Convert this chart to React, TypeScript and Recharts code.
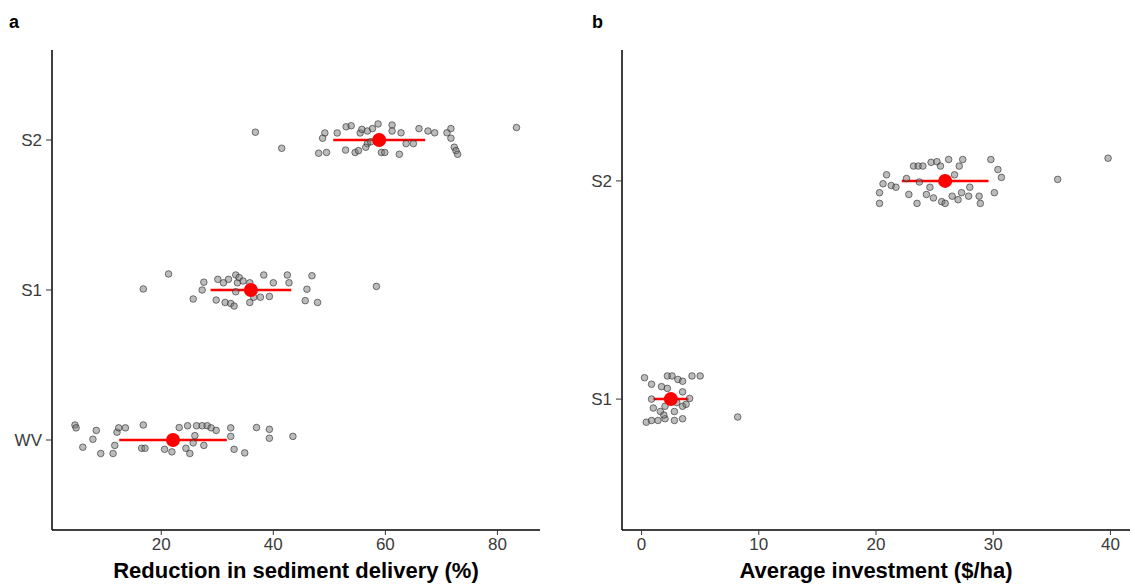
import React from 'react';
import {
  ScatterChart,
  Scatter,
  XAxis,
  YAxis,
  ErrorBar,
  Label,
} from "recharts";

// panel a: reduction in sediment delivery (%)
const aCategories = ["WV", "S1", "S2"];
const aWV = [4.6, 4.8, 6.0, 7.8, 8.4, 9.2, 11.4, 11.7, 12.1, 12.4, 13.6, 16.8, 16.5, 17.1, 20.6, 21.9, 23.2, 24.7, 24.4, 25.1, 26.0, 26.3, 27.3, 28.2, 28.9, 29.8, 27.6, 32.4, 32.4, 33.0, 34.9, 37.0, 39.3, 39.3, 43.5, 25.7];
const aWVJitter = [0.1, 0.081, -0.048, 0.005, 0.064, -0.09, -0.09, -0.036, 0.052, 0.081, 0.081, 0.1, -0.055, -0.055, -0.062, -0.079, 0.083, 0.095, -0.055, -0.09, 0.029, 0.095, 0.095, 0.095, 0.081, 0.064, -0.036, 0.081, 0.024, -0.062, -0.086, 0.083, 0.071, 0.012, 0.024, -0.019];
const aS1 = [16.8, 21.3, 25.7, 27.3, 27.6, 29.8, 30.1, 31.1, 31.4, 32.4, 33.0, 32.0, 33.3, 33.6, 33.9, 33.3, 34.6, 35.8, 35.8, 36.5, 37.7, 38.3, 39.3, 40.0, 42.5, 42.8, 45.7, 46.0, 46.9, 47.9, 58.4];
const aS1Jitter = [0.007, 0.107, -0.06, 0, 0.052, -0.067, 0.071, 0.048, -0.083, -0.09, -0.107, 0.071, 0.1, 0.048, 0.083, -0.012, 0.06, 0.048, -0.083, -0.048, -0.048, 0.1, -0.043, 0.048, 0.1, 0.048, -0.071, 0.005, 0.095, -0.083, 0.024];
const aS2 = [36.8, 41.5, 48.1, 49.5, 49.2, 48.8, 51.4, 53.0, 53.9, 52.9, 54.6, 55.2, 55.5, 55.8, 56.8, 57.7, 58.7, 56.8, 56.5, 59.3, 59.9, 61.2, 61.2, 62.5, 62.8, 63.7, 65.0, 66.0, 67.6, 68.8, 71.0, 71.7, 71.7, 72.3, 72.6, 72.9, 83.4, 57.4];
const aS2Jitter = [0.052, -0.055, -0.088, -0.083, 0.047, 0.012, 0.047, 0.088, 0.095, -0.067, -0.083, -0.071, 0.047, 0.071, 0.06, 0.076, 0.107, -0.024, -0.048, -0.083, -0.083, 0.1, 0.06, -0.095, 0.048, -0.024, -0.024, 0.076, 0.06, 0.048, 0.048, 0.076, 0.012, -0.048, -0.071, -0.095, 0.083, -0.012];
const aMeans = [22.1, 36.0, 58.9];
const aSd = [9.6, 7.2, 8.2];
const aTicks = [20, 40, 60, 80];

// panel b: average investment ($/ha)
const bCategories = ["S1", "S2"];
const bS1 = [0.25, 0.85, 2.2, 2.6, 3.1, 3.5, 4.3, 5.0, 1.7, 2.2, 0.85, 3.5, 4.1, 1.0, 1.6, 2.0, 3.0, 3.5, 3.8, 2.8, 0.4, 0.85, 1.4, 2.0, 2.8, 3.5, 1.9, 8.2];
const bS1Jitter = [0.098, 0.068, 0.106, 0.106, 0.09, 0.082, 0.106, 0.106, 0.057, 0.049, 0, 0.033, 0.003, -0.041, -0.057, -0.033, -0.016, -0.033, -0.024, -0.057, -0.106, -0.098, -0.098, -0.09, -0.098, -0.09, -0.073, -0.082];
const bS2 = [20.3, 20.3, 20.6, 20.9, 21.3, 21.7, 22.6, 22.8, 23.2, 23.6, 24.0, 23.7, 23.5, 24.3, 24.6, 24.7, 25.2, 25.5, 24.9, 25.6, 25.9, 26.2, 26.5, 26.7, 27.0, 27.1, 27.4, 27.3, 27.9, 28.0, 28.8, 28.9, 29.8, 30.1, 30.4, 30.7, 35.5, 39.8];
const bS2Jitter = [-0.103, -0.054, -0.013, 0.028, -0.021, -0.029, 0.011, -0.062, 0.068, 0.068, 0.068, -0.005, -0.103, -0.062, -0.029, 0.085, 0.088, 0.068, -0.078, -0.095, -0.103, 0.098, -0.07, 0.028, -0.086, 0.068, 0.098, -0.054, -0.07, -0.029, -0.07, -0.103, 0.098, -0.054, 0.052, 0.016, 0.007, 0.104];
const bMeans = [2.5, 25.9];
const bSd = [1.5, 3.7];
const bTicks = [0, 10, 20, 30, 40];

const FONT = '"Liberation Sans", Arial, sans-serif';

const toPoints = (values: number[], jitter: number[], level: number) =>
  values.map((x, i) => ({ x, y: level + jitter[i] }));

const GreyDot = (props: any) => (
  <circle
    cx={props.cx}
    cy={props.cy}
    r={3.3}
    fill="#7a7a7a"
    fillOpacity={0.5}
    stroke="#262626"
    strokeOpacity={0.6}
    strokeWidth={1}
  />
);

const MeanDot = (props: any) => (
  <circle cx={props.cx} cy={props.cy} r={7} fill="#FF0000" />
);

type PanelProps = {
  width: number;
  yAxisWidth: number;
  rightMargin: number;
  categories: string[];
  groups: { x: number; y: number }[][];
  means: number[];
  sds: number[];
  xDomain: [number, number];
  xTicks: number[];
  xTitle: string;
};

function Panel({ width, yAxisWidth, rightMargin, categories, groups, means, sds, xDomain, xTicks, xTitle }: PanelProps) {
  const meanData = means.map((m, i) => ({ x: m, y: i + 1, sd: sds[i] }));
  const tickStyle = { fill: "#3a3a3a", fontSize: 17, fontFamily: FONT };
  return (
    <ScatterChart width={width} height={586} margin={{ top: 50, right: rightMargin, bottom: 0, left: 0 }}>
      <XAxis
        type="number"
        dataKey="x"
        domain={xDomain}
        ticks={xTicks}
        allowDataOverflow
        height={56}
        tick={tickStyle}
        tickSize={5}
        tickMargin={3}
        tickLine={{ stroke: "#333" }}
        axisLine={{ stroke: "#000", strokeWidth: 1.5 }}
      >
        <Label
          value={xTitle}
          position="insideBottom"
          offset={8}
          style={{ fontFamily: FONT, fontSize: 22, fontWeight: "bold", fill: "#000" }}
        />
      </XAxis>
      <YAxis
        type="number"
        dataKey="y"
        domain={[0.4, categories.length + 0.6]}
        ticks={categories.map((_, i) => i + 1)}
        tickFormatter={(v) => categories[v - 1]}
        allowDataOverflow
        width={yAxisWidth}
        tick={tickStyle}
        tickSize={6}
        tickMargin={4}
        tickLine={{ stroke: "#333" }}
        axisLine={{ stroke: "#000", strokeWidth: 1.5 }}
      />
      {groups.map((g, i) => (
        <Scatter key={`g-${i}`} data={g} shape={GreyDot} isAnimationActive={false} />
      ))}
      <Scatter data={meanData} shape={MeanDot} isAnimationActive={false}>
        <ErrorBar dataKey="sd" direction="x" width={0} stroke="#FF0000" strokeWidth={2.5} />
      </Scatter>
    </ScatterChart>
  );
}

export default function App() {
  const aGroups = [
    toPoints(aWV, aWVJitter, 1),
    toPoints(aS1, aS1Jitter, 2),
    toPoints(aS2, aS2Jitter, 3),
  ];
  const bGroups = [toPoints(bS1, bS1Jitter, 1), toPoints(bS2, bS2Jitter, 2)];
  const letterStyle: React.CSSProperties = {
    position: "absolute",
    top: 12,
    fontFamily: FONT,
    fontWeight: "bold",
    fontSize: 18,
  };

  return (
    <div style={{ position: "absolute", left: 0, top: 0, width: 1135, height: 586, background: "#fff" }}>
      <div style={{ position: "absolute", left: 0, top: 0 }}>
        <Panel
          width={580}
          yAxisWidth={52}
          rightMargin={40}
          categories={aCategories}
          groups={aGroups}
          means={aMeans}
          sds={aSd}
          xDomain={[0.5, 87.6]}
          xTicks={aTicks}
          xTitle="Reduction in sediment delivery (%)"
        />
      </div>
      <div style={{ position: "absolute", left: 580, top: 0 }}>
        <Panel
          width={555}
          yAxisWidth={42}
          rightMargin={5}
          categories={bCategories}
          groups={bGroups}
          means={bMeans}
          sds={bSd}
          xDomain={[-1.67, 41.67]}
          xTicks={bTicks}
          xTitle="Average investment ($/ha)"
        />
      </div>
      <div style={{ ...letterStyle, left: 9 }}>a</div>
      <div style={{ ...letterStyle, left: 592 }}>b</div>
    </div>
  );
}
